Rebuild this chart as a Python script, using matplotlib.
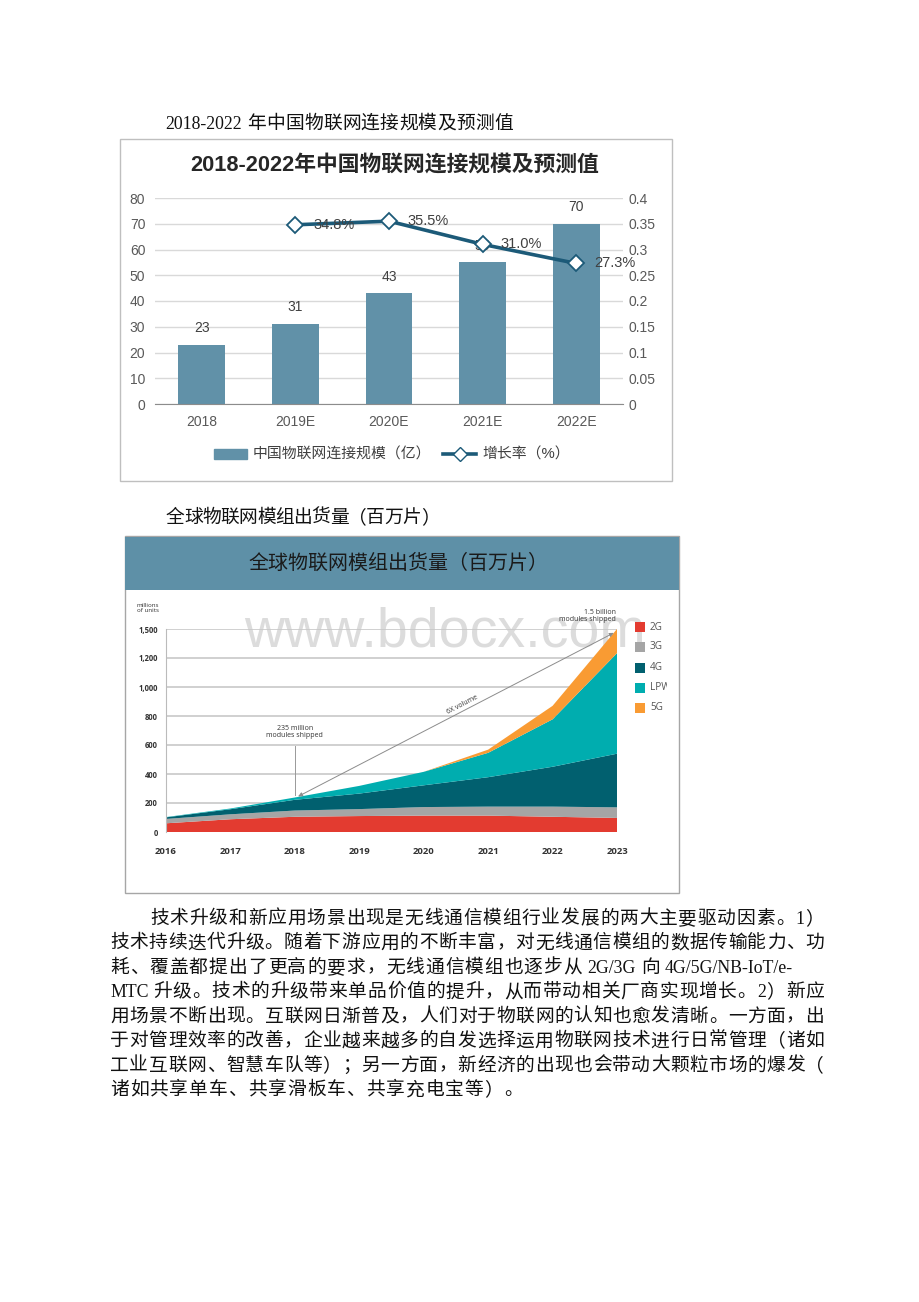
import numpy as np
import matplotlib
matplotlib.use('Agg')
import matplotlib.pyplot as plt
from matplotlib.patches import Rectangle, Patch
from matplotlib.lines import Line2D
from matplotlib.transforms import Bbox

W, H = 920, 1302

# chart 1: China IoT connections
cats1 = ['2018', '2019E', '2020E', '2021E', '2022E']
scale1 = [23, 31, 43, 55, 70]
rate1 = [0.348, 0.355, 0.310, 0.273]   # 2019E..2022E
rate_ticks = [0, 0.05, 0.1, 0.15, 0.2, 0.25, 0.3, 0.35, 0.4]

# chart 2: global IoT module shipments (millions)
years2 = [2016, 2017, 2018, 2019, 2020, 2021, 2022, 2023]
g2 = [60, 88, 105, 110, 113, 113, 105, 97]
g3 = [30, 34, 43, 48, 59, 62, 70, 73]
g4 = [11, 35, 74, 107, 150, 203, 275, 370]
lpwa = [2, 5, 16, 53, 93, 168, 327, 710]
g5 = [0, 0, 0, 0, 0, 22, 93, 250]
names2 = ['2G', '3G', '4G', 'LPWA', '5G']
ticks2 = [0, 200, 400, 600, 800, 1000, 1200, 1500]
tick_labels2 = ['0', '200', '400', '600', '800', '1,000', '1,200', '1,500']

body = [
    '技术升级和新应用场景出现是无线通信模组行业发展的两大主要驱动因素。1）',
    '技术持续迭代升级。随着下游应用的不断丰富，对无线通信模组的数据传输能力、功',
    '耗、覆盖都提出了更高的要求，无线通信模组也逐步从 2G/3G 向 4G/5G/NB-IoT/e-',
    'MTC 升级。技术的升级带来单品价值的提升，从而带动相关厂商实现增长。2）新应',
    '用场景不断出现。互联网日渐普及，人们对于物联网的认知也愈发清晰。一方面，出',
    '于对管理效率的改善，企业越来越多的自发选择运用物联网技术进行日常管理（诸如',
    '工业互联网、智慧车队等）；另一方面，新经济的出现也会带动大颗粒市场的爆发（',
    '诸如共享单车、共享滑板车、共享充电宝等）。',
]
justified = [True, True, False, True, True, True, True, False]

SANS = ['Liberation Sans', 'Noto Sans CJK SC']
OPEN = ['Open Sans', 'DejaVu Sans']
LATIN = 'Liberation Serif'
CJK = 'Noto Sans CJK SC'

BAR = '#6191a8'
LINE = '#1c5a78'
HEAD = '#5e90a7'
COLORS2 = ['#e33b30', '#a5a5a5', '#01606f', '#00adaf', '#f99b33']


def P(x, y):
    # pixel position on the page -> figure fraction
    return x / W, 1 - y / H


def box(x0, y0, x1, y1, **kw):
    fig.add_artist(Rectangle(P(x0, y1), (x1 - x0) / W, (y1 - y0) / H,
                             transform=fig.transFigure, **kw))


fig = plt.figure(figsize=(W / 100, H / 100), dpi=100)
renderer = fig.canvas.get_renderer()


def put_line(x0, yc, s, pitch, fs_cjk=13.5, fs_lat=12.8, right=None, color='#111111'):
    # word-style layout: CJK chars on a fixed pitch, latin runs at natural width
    em = fs_lat * 100 / 72
    tokens = []
    i = 0
    while i < len(s):
        ch = s[i]
        if ch == ' ':
            tokens.append(('sp', ch, 0.25 * em))
            i += 1
        elif ord(ch) < 0x2000:
            j = i
            while j < len(s) and ord(s[j]) < 0x2000 and s[j] != ' ':
                j += 1
            t = fig.text(0, 0, s[i:j], family=LATIN, fontsize=fs_lat)
            w = t.get_window_extent(renderer).width + 0.05 * em
            t.remove()
            tokens.append(('lat', s[i:j], w))
            i = j
        else:
            tokens.append(('cjk', ch, pitch))
            i += 1
    gap = 0
    if right is not None and len(tokens) > 1:
        gap = (right - x0 - sum(w for _, _, w in tokens)) / (len(tokens) - 1)
    base = yc + 0.36 * fs_cjk * 100 / 72
    x = x0
    for kind, txt, w in tokens:
        if kind == 'lat':
            fig.text(*P(x, base), txt, family=LATIN, fontsize=fs_lat, va='baseline', color=color)
        elif kind == 'cjk':
            fig.text(*P(x, base), txt, family=CJK, fontsize=fs_cjk, va='baseline', color=color)
        x += w + gap


# ---- page captions
put_line(165, 122, '2018-2022 年中国物联网连接规模及预测值', 19.0)
put_line(166, 516, '全球物联网模组出货量（百万片）', 18.2)

# ---- chart 1
box(120, 139, 672, 481, fill=False, edgecolor='#bfbfbf', lw=1)
fig.text(*P(395, 165), '2018-2022年中国物联网连接规模及预测值', family=SANS,
         fontsize=15.7, weight='bold', ha='center', va='center', color='#262626')

ax1 = fig.add_axes([155 / W, 1 - 404 / H, 468 / W, 206 / H])
x1 = np.arange(len(cats1))
ax1.bar(x1, scale1, width=0.5, color=BAR, zorder=2)
ax1.set_xlim(-0.5, len(cats1) - 0.5)
ax1.set_ylim(0, 80)
ax1.set_yticks(range(0, 81, 10))
ax1.set_xticks(x1)
ax1.set_xticklabels(cats1)
ax1.grid(axis='y', color='#d9d9d9', lw=1, zorder=0)
ax1.set_axisbelow(True)
for s in ['top', 'left', 'right']:
    ax1.spines[s].set_visible(False)
ax1.spines['bottom'].set_color('#8c8c8c')
ax1.tick_params(length=0, labelsize=10, labelcolor='#595959')
ax1.tick_params(axis='y', pad=7)
ax1.tick_params(axis='x', pad=8)
for lab in ax1.get_xticklabels() + ax1.get_yticklabels():
    lab.set_family(SANS)
for xi, v in zip(x1, scale1):
    ax1.annotate(str(v), (xi, v), xytext=(0, 7), textcoords='offset points',
                 ha='center', va='bottom', fontsize=10, color='#404040', family=SANS)

ax1r = ax1.twinx()
ax1r.set_ylim(0, 0.4)
ax1r.set_yticks(rate_ticks)
ax1r.set_yticklabels([f'{v:g}' for v in rate_ticks])
for s in ax1r.spines.values():
    s.set_visible(False)
ax1r.tick_params(length=0, labelsize=10, labelcolor='#595959', pad=4)
for lab in ax1r.get_yticklabels():
    lab.set_family(SANS)
ax1r.plot(x1[1:], rate1, color=LINE, lw=2.6, marker='D', ms=8, mfc='white',
          mec=LINE, mew=1.3, zorder=3)
for xi, r in zip(x1[1:], rate1):
    ax1r.annotate(f'{r * 100:.1f}%', (xi, r), xytext=(13, 0), textcoords='offset points',
                  ha='left', va='center', fontsize=10.5, color='#404040', family=SANS)

handles = [Patch(color=BAR),
           Line2D([], [], color=LINE, lw=2.6, marker='D', ms=7, mfc='white', mec=LINE)]
fig.legend(handles, ['中国物联网连接规模（亿）', '增长率（%）'], loc='center',
           bbox_to_anchor=P(392, 455), ncol=2, frameon=False, handlelength=2.2,
           handletextpad=0.4, columnspacing=0.8, labelcolor='#404040',
           prop={'family': SANS, 'size': 10.7})

# ---- chart 2
box(125, 536, 679, 893, fill=False, edgecolor='#a6a6a6', lw=1)
box(125, 537, 679, 590, color=HEAD, lw=0)
fig.text(*P(399, 563), '全球物联网模组出货量（百万片）', family=[CJK],
         fontsize=14.4, weight='medium', ha='center', va='center', color='#1a1a1a')
fig.text(*P(445, 632), 'www.bdocx.com', family='Liberation Sans', fontsize=40,
         ha='center', va='center', color='#dcdcdc', zorder=-5)


def fwd(y):
    y = np.asarray(y, dtype=float)
    return np.where(y <= 1200, y, 1200 + (y - 1200) * 2 / 3)


def inv(y):
    y = np.asarray(y, dtype=float)
    return np.where(y <= 1200, y, 1200 + (y - 1200) * 1.5)


ax2 = fig.add_axes([166 / W, 1 - 832 / H, 451 / W, 203 / H])
ax2.patch.set_visible(False)
ax2.set_yscale('function', functions=(fwd, inv))
ax2.stackplot(years2, g2, g3, g4, lpwa, g5, colors=COLORS2, lw=0, zorder=2)
ax2.set_xlim(2016, 2023)
ax2.set_ylim(0, 1500)
ax2.set_yticks(ticks2)
ax2.set_yticklabels(tick_labels2)
ax2.set_xticks(years2)
ax2.yaxis.set_minor_locator(matplotlib.ticker.NullLocator())
ax2.grid(axis='y', color='#c8c8c8', lw=1.2, zorder=0)
ax2.set_axisbelow(True)
for s in ['top', 'right', 'bottom']:
    ax2.spines[s].set_visible(False)
ax2.spines['left'].set_color('#bbbbbb')
ax2.tick_params(length=0)
ax2.tick_params(axis='y', labelsize=5.5, pad=6, labelcolor='#333333')
ax2.tick_params(axis='x', labelsize=6.8, pad=11, labelcolor='#333333')
for lab in ax2.get_xticklabels() + ax2.get_yticklabels():
    lab.set_family(OPEN)
    lab.set_weight('bold')

fig.text(*P(148, 608), 'millions\nof units', family=OPEN, fontsize=4.5, ha='center',
         va='center', linespacing=1.0, color='#333333')

# 235 million callout
ax2.text(2018, 690, '235 million\nmodules shipped', family=OPEN, fontsize=5, ha='center',
         va='center', linespacing=1.1, color='#333333')
ax2.plot([2018, 2018], [255, 590], color='#999999', lw=0.7, zorder=3)
ax2.annotate('', xy=(2022.95, 1460), xytext=(2018.05, 245),
             arrowprops=dict(arrowstyle='<|-|>,head_length=0.25,head_width=0.12',
                             color='#8c8c8c', lw=0.7, shrinkA=0, shrinkB=0), zorder=3)
ax2.text(2020.6, 880, '6X volume', family=OPEN, fontsize=5, ha='center', va='center',
         rotation=27.5, rotation_mode='anchor', color='#333333')
fig.text(*P(616, 616), '1.5 billion\nmodules shipped', family=OPEN, fontsize=5,
         ha='right', va='center', linespacing=1.1, color='#333333')

# legend drawn by hand so the last label can be clipped at the box edge
leg_y = [627, 647, 668, 688, 708]
for name, col, yc in zip(names2, COLORS2, leg_y):
    box(635, yc - 5, 645, yc + 5, color=col, lw=0)
    t = fig.text(*P(650, yc), name, family=OPEN, fontsize=7.2, va='center', color='#555555')
    t.set_clip_box(Bbox([[0, 0], [667, H]]))
    t.set_clip_on(True)

# ---- body text
y0, dy = 917, 24.5
for i, (line, just) in enumerate(zip(body, justified)):
    xl = 150 if i == 0 else 110
    put_line(xl, y0 + i * dy, line, 19.7, right=825 if just else None)

fig.savefig('out.png', dpi=100)
